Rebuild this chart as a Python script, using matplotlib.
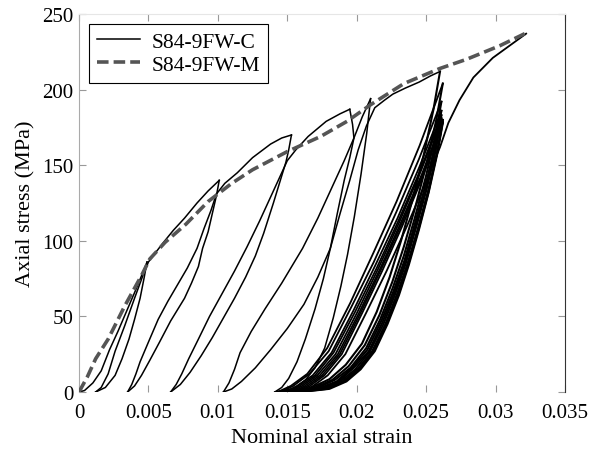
import matplotlib.pyplot as plt

plt.rcParams['font.family'] = ['Liberation Serif', 'DejaVu Serif']

# model envelope (dashed)
model_strain = [0.0, 0.0006, 0.0012, 0.0021, 0.0033, 0.0045, 0.0051, 0.0062, 0.0077, 0.0093,
                0.0110, 0.0125, 0.0150, 0.0174, 0.0193, 0.0210, 0.0234, 0.0260, 0.0279, 0.0303, 0.0321]
model_stress = [0, 10, 22, 35, 57, 77, 88, 99, 111, 126,
                138, 147, 159, 169, 179, 190, 204, 214, 220, 229, 237]

# test curve, branch by branch (strain, stress)
load1_strain = [0.0, 0.0004, 0.0010, 0.0016, 0.0022, 0.0028, 0.0035, 0.0042, 0.0049]
load1_stress = [0, 1, 6, 14, 28, 40, 55, 70, 86]
unload1_strain = [0.0049, 0.0047, 0.0044, 0.0040, 0.0036, 0.0031, 0.0026, 0.0019, 0.0012]
unload1_stress = [86, 76, 62, 48, 35, 22, 11, 3, 0]
reload1_strain = [0.0012, 0.0016, 0.0021, 0.0026, 0.0033, 0.0040, 0.0046, 0.0050,
                  0.0055, 0.0060, 0.0068, 0.0076, 0.0085, 0.0093, 0.0101]
reload1_stress = [0, 3, 12, 27, 44, 62, 77, 86,
                  92, 98, 107, 115, 125, 133, 140]

unload2_strain = [0.0101, 0.0099, 0.0096, 0.0093, 0.0089, 0.0086, 0.0081, 0.0076, 0.0066,
                  0.0058, 0.0051, 0.0045, 0.0040, 0.0035]
unload2_stress = [140, 130, 118, 106, 95, 83, 72, 62, 47, 33, 21, 11, 4, 0]
reload2_strain = [0.0035, 0.0038, 0.0041, 0.0044, 0.0050, 0.0057, 0.0064, 0.0071, 0.0078, 0.0085,
                  0.0090, 0.0095, 0.0099,
                  0.0105, 0.0114, 0.0125, 0.0138, 0.0146, 0.0153]
reload2_stress = [0, 5, 12, 20, 33, 48, 60, 71, 82, 95,
                  108, 120, 131,
                  138, 145, 155, 164, 168, 170]

unload3_strain = [0.0153, 0.0151, 0.0149, 0.0145, 0.0140, 0.0133, 0.0127, 0.0120, 0.0112,
                  0.0104, 0.0096, 0.0088, 0.0080, 0.0073, 0.0066]
unload3_stress = [170, 160, 152, 140, 125, 105, 90, 76, 62, 49, 36, 24, 13, 5, 0]
reload3_strain = [0.0066, 0.0070, 0.0074, 0.0079, 0.0086, 0.0094, 0.0103, 0.0112, 0.0121, 0.0130,
                  0.0140, 0.0150,
                  0.0156, 0.0165, 0.0178, 0.0188, 0.0195]
reload3_stress = [0, 5, 12, 22, 35, 50, 65, 80, 96, 113,
                  133, 153,
                  160, 169, 179, 184, 187]

unload4_strain = [0.0195, 0.0197, 0.0198, 0.0195, 0.0191, 0.0186, 0.0181, 0.0172, 0.0162,
                  0.0150, 0.0138, 0.0127, 0.0117, 0.0110, 0.0104]
unload4_stress = [187, 177, 168, 155, 140, 118, 95, 76, 58, 42, 28, 16, 7, 2, 0]
reload4_strain = [0.0104, 0.0108, 0.0112, 0.0116, 0.0124, 0.0134, 0.0146, 0.0161, 0.0172, 0.0182,
                  0.0191, 0.0198, 0.0204, 0.0210]
reload4_stress = [0, 6, 15, 26, 40, 55, 72, 95, 115, 135, 153, 168, 182, 194]

unload5_strain = [0.0210, 0.02072, 0.02031, 0.01983, 0.01934, 0.01886, 0.01831, 0.01769,
                  0.01700, 0.01631, 0.01548, 0.0141]
unload5_stress = [194, 171, 144, 116, 91, 70, 49, 29, 16, 8, 2.3, 0]
reload5_strain = [0.0141, 0.0146, 0.0151, 0.0157, 0.0163, 0.0170, 0.0176, 0.0181, 0.0188, 0.0195,
                  0.0201, 0.0207, 0.0213, 0.0220, 0.0226, 0.0235, 0.0245, 0.0253, 0.0260]
reload5_stress = [0, 3, 9, 20, 35, 55, 75, 95, 118, 140,
                  160, 176, 188, 193, 197, 201, 205, 209, 212]

# repeated cycles near 0.026 strain: unloading branches
bundle_unload_strain = [
    [0.0260, 0.02553, 0.02483, 0.02401, 0.02319, 0.02237, 0.02144, 0.02038, 0.01921, 0.01804, 0.01664, 0.0143],
    [0.0262, 0.02573, 0.02503, 0.02421, 0.02339, 0.02257, 0.02164, 0.02058, 0.01941, 0.01824, 0.01684, 0.0145],
    [0.0261, 0.02565, 0.02497, 0.02418, 0.02339, 0.02260, 0.02169, 0.02068, 0.01955, 0.01842, 0.01706, 0.0148],
    [0.0261, 0.02566, 0.02499, 0.02421, 0.02344, 0.02266, 0.02177, 0.02077, 0.01966, 0.01855, 0.01722, 0.0150],
    [0.0261, 0.02566, 0.02501, 0.02425, 0.02348, 0.02272, 0.02185, 0.02087, 0.01978, 0.01869, 0.01738, 0.0152],
    [0.0261, 0.02567, 0.02503, 0.02428, 0.02353, 0.02278, 0.02193, 0.02096, 0.01989, 0.01882, 0.01754, 0.0154],
    [0.0262, 0.02578, 0.02514, 0.02440, 0.02366, 0.02291, 0.02207, 0.02111, 0.02005, 0.01899, 0.01772, 0.0156],
    [0.0262, 0.02578, 0.02516, 0.02443, 0.02370, 0.02298, 0.02214, 0.02121, 0.02017, 0.01913, 0.01788, 0.0158],
    [0.0262, 0.02579, 0.02518, 0.02447, 0.02375, 0.02304, 0.02222, 0.02130, 0.02028, 0.01926, 0.01804, 0.0160],
]
bundle_unload_stress = [
    [212, 187, 157, 127, 100, 76, 53, 32, 18, 8.5, 2.5, 0],
    [204, 180, 151, 122, 96, 73, 51, 31, 17, 8, 2.4, 0],
    [192, 169, 142, 115, 90, 69, 48, 29, 16, 8, 2.3, 0],
    [186, 164, 138, 112, 87, 67, 47, 28, 16, 7, 2.2, 0],
    [183, 161, 135, 110, 86, 66, 46, 27, 16, 7, 2.2, 0],
    [181, 159, 134, 109, 85, 65, 45, 27, 15, 7, 2.2, 0],
    [180, 158, 133, 108, 85, 65, 45, 27, 15, 7, 2.2, 0],
    [179, 158, 132, 107, 84, 64, 45, 27, 15, 7, 2.1, 0],
    [178, 157, 132, 107, 84, 64, 45, 27, 15, 7, 2.1, 0],
]
# reloading branches (last one runs on to the end of the test)
bundle_reload_strain = [
    [0.0143, 0.01525, 0.01644, 0.01787, 0.01954, 0.02120, 0.02287, 0.02453, 0.0262],
    [0.0145, 0.01543, 0.01659, 0.01798, 0.01960, 0.02123, 0.02285, 0.02448, 0.0261],
    [0.0148, 0.01570, 0.01683, 0.01819, 0.01977, 0.02135, 0.02294, 0.02452, 0.0261],
    [0.0150, 0.01589, 0.01700, 0.01833, 0.01988, 0.02144, 0.02299, 0.02455, 0.0261],
    [0.0152, 0.01607, 0.01716, 0.01847, 0.02000, 0.02152, 0.02305, 0.02457, 0.0261],
    [0.0154, 0.01626, 0.01734, 0.01864, 0.02015, 0.02166, 0.02318, 0.02469, 0.0262],
    [0.0156, 0.01645, 0.01751, 0.01878, 0.02026, 0.02175, 0.02323, 0.02472, 0.0262],
    [0.0158, 0.01663, 0.01767, 0.01892, 0.02038, 0.02183, 0.02329, 0.02474, 0.0262],
    [0.0160, 0.01685, 0.01791, 0.01918, 0.02066, 0.02215, 0.02363, 0.02512, 0.0260, 0.0266,
     0.0274, 0.0284, 0.0298, 0.0313, 0.0322],
]
bundle_reload_stress = [
    [0, 4, 12, 29, 59, 92, 126, 163, 204],
    [0, 4, 12, 27, 56, 86, 119, 154, 192],
    [0, 4, 11, 26, 54, 84, 115, 149, 186],
    [0, 4, 11, 26, 53, 82, 113, 146, 183],
    [0, 4, 11, 25, 52, 81, 112, 145, 181],
    [0, 4, 11, 25, 52, 81, 112, 144, 180],
    [0, 4, 11, 25, 52, 81, 111, 143, 179],
    [0, 4, 11, 25, 52, 80, 110, 142, 178],
    [0, 4, 11, 25, 52, 80, 110, 142, 162, 178,
     193, 208, 221, 231, 237],
]

test_strain = [load1_strain, unload1_strain, reload1_strain, unload2_strain, reload2_strain,
               unload3_strain, reload3_strain, unload4_strain, reload4_strain,
               unload5_strain, reload5_strain]
test_stress = [load1_stress, unload1_stress, reload1_stress, unload2_stress, reload2_stress,
               unload3_stress, reload3_stress, unload4_stress, reload4_stress,
               unload5_stress, reload5_stress]

fig = plt.figure(figsize=(6.03, 4.52), dpi=100)
ax = fig.add_axes([0.131, 0.1305, 0.806, 0.8363])

for i, (xs, ys) in enumerate(zip(test_strain, test_stress)):
    ax.plot(xs, ys, color='black', lw=1.1, label='S84-9FW-C' if i == 0 else None, zorder=2)
for u_x, u_y, r_x, r_y in zip(bundle_unload_strain, bundle_unload_stress,
                              bundle_reload_strain, bundle_reload_stress):
    ax.plot(u_x, u_y, color='black', lw=1.5, zorder=2)
    ax.plot(r_x, r_y, color='black', lw=1.3, zorder=2)
ax.plot(model_strain, model_stress, color='#555555', lw=2.6, dashes=(3.2, 1.4),
        label='S84-9FW-M', zorder=3)

ax.set_xlim(0, 0.035)
ax.set_ylim(0, 250)
ax.set_xticks([0, 0.005, 0.01, 0.015, 0.02, 0.025, 0.03, 0.035])
ax.set_xticklabels(['0', '0.005', '0.01', '0.015', '0.02', '0.025', '0.03', '0.035'])
ax.set_yticks([0, 50, 100, 150, 200, 250])
ax.tick_params(direction='in', length=5, width=0.8, color='#999999',
               top=True, right=True, labelsize=15)
ax.tick_params(axis='x', pad=8)
ax.tick_params(axis='y', pad=4)
ax.set_xlabel('Nominal axial strain', fontsize=16, labelpad=4)
ax.set_ylabel('Axial stress (MPa)', fontsize=16, labelpad=5)

ax.spines['bottom'].set_visible(False)
ax.spines['top'].set_color('#e6e6e6')
ax.spines['left'].set_color('#aaaaaa')
ax.spines['right'].set_color('#333333')

leg = ax.legend(loc='upper left', fontsize=15.5, handlelength=2.0, fancybox=False,
                framealpha=1, edgecolor='black', borderaxespad=0.45,
                borderpad=0.38, labelspacing=0.12, handletextpad=0.55)
leg.get_frame().set_linewidth(0.8)

fig.savefig('out.png', dpi=100)
